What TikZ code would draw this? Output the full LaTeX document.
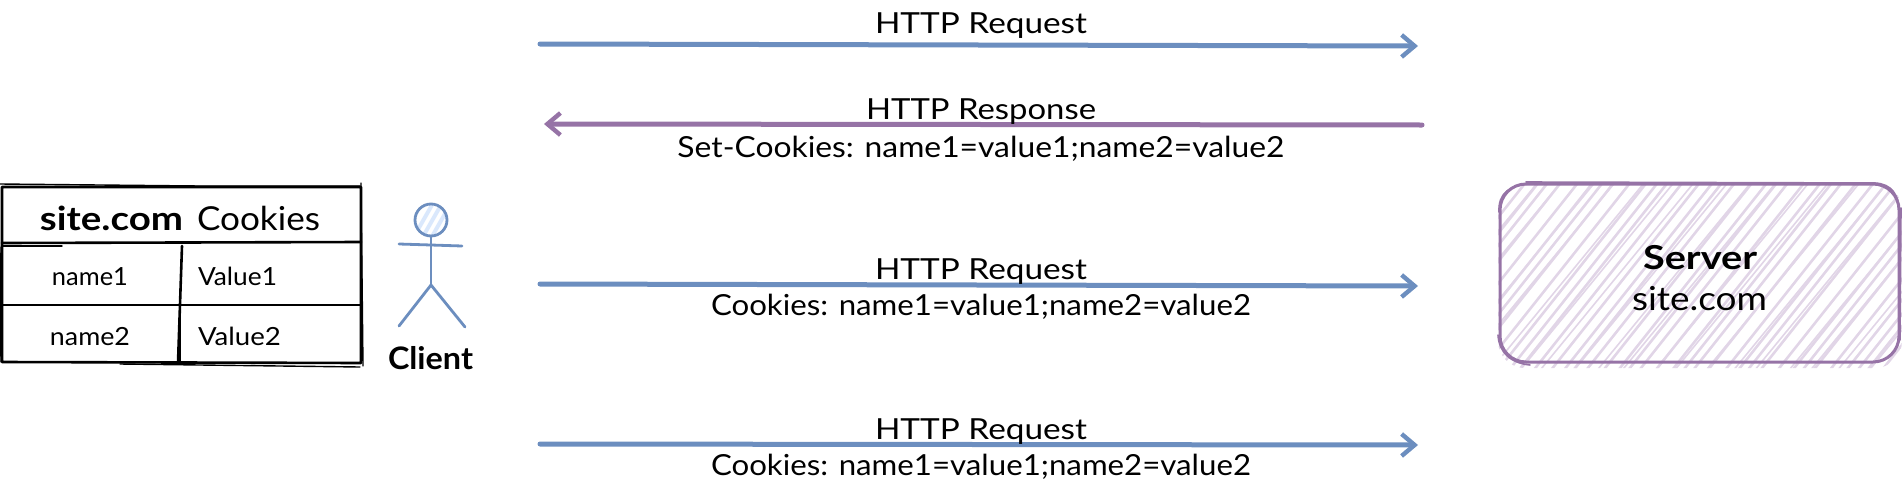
\documentclass[tikz,border=0pt]{standalone}
\usepackage{fontspec}
\setmainfont{Lato}
\usetikzlibrary{arrows.meta}
\definecolor{bluestroke}{HTML}{6C8EBF}
\definecolor{bluefill}{HTML}{DAE8FC}
\definecolor{purplestroke}{HTML}{9673A6}
\definecolor{purplefill}{HTML}{E1D5E7}
\newcommand\fitw[2]{\resizebox{#1pt}{\height}{#2}}
\tikzset{
  txt/.style={anchor=base,inner sep=0pt,font=\fontsize{29}{29}\selectfont,text=black},
  small/.style={anchor=base,inner sep=0pt,font=\fontsize{25}{25}\selectfont,text=black},
  ink/.style={draw=black,line width=2.6pt,line cap=round,line join=round},
  inkthin/.style={draw=black,line width=1.4pt,line cap=round},
  reqarrow/.style={draw=bluestroke,line width=5pt,line cap=round,-{Straight Barb[length=13pt,width=22pt,line width=4.4pt]}},
  resarrow/.style={draw=purplestroke,line width=5pt,line cap=round,-{Straight Barb[length=13pt,width=22pt,line width=4.4pt]}},
  actor/.style={draw=bluestroke,line width=2.8pt,line cap=round,line join=round},
  srvline/.style={draw=purplestroke,line width=3pt,line cap=round},
  srvthin/.style={draw=purplestroke,line width=1.6pt,line cap=round},
}
\begin{document}
\begin{tikzpicture}[x=1pt,y=-1pt]
\useasboundingbox (0,0) rectangle (1902,482);
% connector end points
\coordinate (r1s) at (540,44);   \coordinate (r1e) at (1418,46);
\coordinate (r2s) at (1422,125); \coordinate (r2e) at (544,124);
\coordinate (r3s) at (540,284);  \coordinate (r3e) at (1418,286);
\coordinate (r4s) at (540,444);  \coordinate (r4e) at (1418,445);
\draw[reqarrow] (r1s) -- (r1e);
\draw[resarrow] (r2s) -- (r2e);
\draw[reqarrow] (r3s) -- (r3e);
\draw[reqarrow] (r4s) -- (r4e);
\node[txt] (t1) at (981,33) {\fitw{212}{HTTP Request}};
\node[txt] (t2) at (981,119) {\fitw{230}{HTTP Response}};
\node[txt] (t2b) at (981,157) {\fitw{607}{Set-Cookies: name1=value1;name2=value2}};
\node[txt] (t3) at (981,279) {\fitw{212}{HTTP Request}};
\node[txt] (t3b) at (981,315) {\fitw{540}{Cookies: name1=value1;name2=value2}};
\node[txt] (t4) at (981,439) {\fitw{212}{HTTP Request}};
\node[txt] (t4b) at (981,475) {\fitw{540}{Cookies: name1=value1;name2=value2}};
% cookie table
\draw[ink] (2,187) -- (361,187) -- (361,363) -- (2,362) -- cycle;
\draw[ink] (2,243) -- (361,242);
\draw[ink] (3,305) -- (361,305);
\draw[ink] (182,246) -- (178,363);
\draw[inkthin] (0,184) -- (200,186) -- (360,186);
\draw[inkthin] (3,246) -- (62,246);
\draw[inkthin] (361,183) -- (363,366);
\draw[inkthin] (1,247) -- (0,362);
\draw[inkthin] (180,300) -- (180,362);
\draw[inkthin] (120,364) -- (360,367);
\node[txt,font=\fontsize{33}{33}\selectfont\bfseries] (t5) at (111.5,230) {\fitw{143}{site.com}};
\node[txt,font=\fontsize{33}{33}\selectfont] (t6) at (258.5,230) {\fitw{123}{Cookies}};
\node[small] (t7) at (90,285) {\fitw{76}{name1}};
\node[small] (t8) at (237.5,285) {\fitw{79}{Value1}};
\node[small] (t9) at (90,345) {\fitw{80}{name2}};
\node[small] (t10) at (239.5,345) {\fitw{83}{Value2}};
% actor
\begin{scope}
\clip (431,220) circle[radius=16];
\foreach \k in {0,...,4}{
  \draw[bluefill,line width=4pt] (412+\k*9,240) -- (432+\k*9,205);
}
\end{scope}
\draw[actor] (431,220) circle[radius=16];
\draw[actor] (431,236) -- (431,286);
\draw[actor] (399,244) -- (431,245) -- (462,246);
\draw[actor] (399,326) -- (431,285) -- (465,327);
\node[txt,font=\fontsize{31}{31}\selectfont\bfseries] (t11) at (430.5,369) {\fitw{85}{Client}};
% server
\begin{scope}
\clip[rounded corners=27pt] (1498,183) rectangle (1902,368);
\foreach \k in {-13,...,34}{
  \pgfmathsetmacro\off{\k*13.4+3*sin(\k*83)}
  \draw[purplefill,line width=2.6pt] (1480+\off,372) -- (1480+\off+150,183);
  \pgfmathsetmacro\offb{\k*26.8+5+4*sin(\k*137)}
  \draw[purplefill,line width=1.6pt] (1484+\offb,372) -- (1484+\offb+155,183);
}
\end{scope}
\draw[srvline,rounded corners=26pt] (1500,184) rectangle (1899,362);
\draw[srvthin] (1526,182) -- (1875,183) .. controls (1892,184) and (1899,195) .. (1899,212);
\draw[srvthin] (1499,212) .. controls (1498,193) and (1510,185) .. (1530,184);
\draw[srvthin] (1498,335) .. controls (1499,352) and (1510,363) .. (1530,365);
\draw[srvthin] (1901,208) -- (1900,340);
\node[txt,font=\fontsize{33}{33}\selectfont\bfseries] (t12) at (1700,269) {\fitw{114}{Server}};
\node[txt,font=\fontsize{33}{33}\selectfont] (t13) at (1699.5,310) {\fitw{135}{site.com}};
\end{tikzpicture}
\end{document}
